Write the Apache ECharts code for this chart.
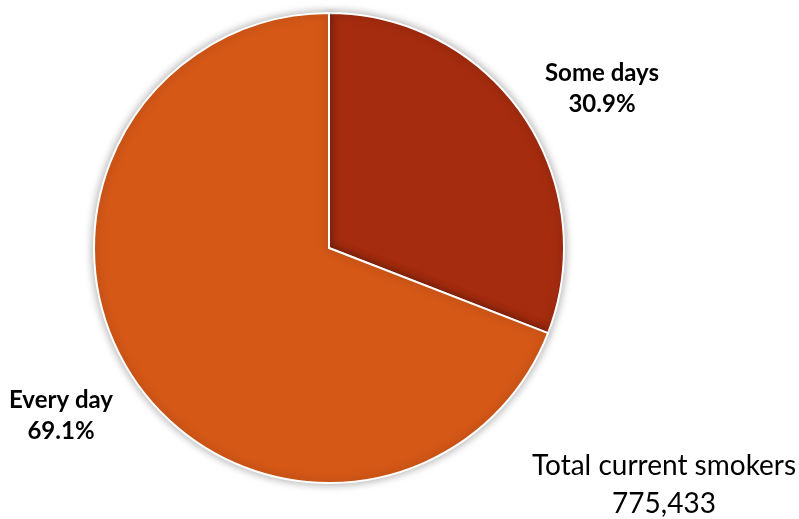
<!DOCTYPE html>
<html>
<head>
<meta charset="utf-8">
<script src="https://cdn.jsdelivr.net/npm/echarts@6/dist/echarts.min.js"></script>
<style>
html, body { margin: 0; padding: 0; background: #fff; }
#chart { width: 799px; height: 519px; }
</style>
</head>
<body>
<div id="chart"></div>
<script>
// Smoking frequency among current smokers
const categories = ['Some days', 'Every day'];
const shares = [30.9, 69.1];
const sliceColors = ['#A52C0F', '#D55817'];
const totalLabel = 'Total current smokers';
const totalValue = '775,433';

// Where each slice's label block is centred
const labelCenters = [[602, 89], [61, 416]];

const chart = echarts.init(document.getElementById('chart'));

chart.setOption({
  animation: false,
  series: [{
    type: 'pie',
    center: [329, 248],
    radius: ['0%', 235],
    startAngle: 90,
    clockwise: true,
    itemStyle: {
      borderColor: '#ffffff',
      borderWidth: 2,
      shadowBlur: 10,
      shadowColor: 'rgba(0,0,0,0.35)'
    },
    label: {
      show: true,
      position: 'outside',
      formatter: p => p.name + '\n' + p.value.toFixed(1) + '%',
      fontFamily: 'Lato, "Open Sans", sans-serif',
      fontWeight: 'bold',
      fontSize: 24,
      lineHeight: 31,
      color: '#000',
      align: 'center',
      overflow: 'none'
    },
    labelLine: { show: false },
    labelLayout: params => ({
      x: labelCenters[params.dataIndex][0],
      y: labelCenters[params.dataIndex][1],
      align: 'center',
      verticalAlign: 'middle',
      width: 200
    }),
    data: categories.map((c, i) => ({
      name: c,
      value: shares[i],
      itemStyle: { color: sliceColors[i] }
    }))
  }],
  graphic: [{
    type: 'text',
    x: 664,
    y: 447,
    style: {
      text: totalLabel + '\n' + totalValue,
      align: 'center',
      verticalAlign: 'top',
      fontFamily: 'Lato, "Open Sans", sans-serif',
      fontSize: 28,
      lineHeight: 38,
      fill: '#000'
    }
  }]
});
</script>
</body>
</html>
